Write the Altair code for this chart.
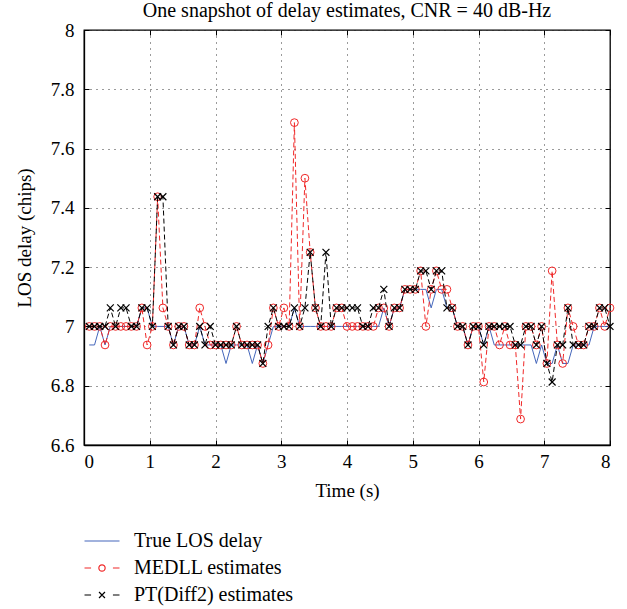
import altair as alt
import pandas as pd

# sampling instants (s)
time_s = [round(0.08 * k, 2) for k in range(1, 101)]

true_delay = [
    6.9375, 6.9375, 7.0, 6.9375, 7.0, 7.0, 7.0, 7.0, 7.0, 7.0,
    7.0625, 7.0625, 7.0, 7.0, 7.0, 7.0, 6.9375, 7.0, 7.0, 6.9375,
    6.9375, 7.0, 6.9375, 6.9375, 6.9375, 6.9375, 6.875, 6.9375, 6.9375, 6.9375,
    6.9375, 6.875, 6.9375, 6.875, 6.9375, 7.0, 7.0, 7.0, 7.0, 7.0625,
    7.0, 7.0, 7.0, 7.0, 7.0, 7.0, 7.0, 7.0, 7.0, 7.0,
    7.0, 7.0, 7.0, 7.0, 7.0, 7.0, 7.0625, 7.0, 7.0625, 7.0625,
    7.125, 7.125, 7.125, 7.125, 7.125, 7.0625, 7.125, 7.125, 7.0625, 7.0625,
    7.0, 7.0, 6.9375, 7.0, 7.0, 6.9375, 7.0, 6.9375, 6.9375, 6.9375,
    6.9375, 6.9375, 6.9375, 6.9375, 6.9375, 6.875, 6.9375, 6.875, 6.875, 6.9375,
    6.875, 6.875, 6.9375, 6.9375, 6.9375, 6.9375, 7.0, 7.0, 7.0, 7.0,
]

medll = [
    7.0, 7.0, 7.0, 6.9375, 7.0, 7.0, 7.0, 7.0, 7.0, 7.0,
    7.0625, 6.9375, 7.0, 7.4375, 7.0625, 7.0, 6.9375, 7.0, 7.0, 6.9375,
    6.9375, 7.0625, 7.0, 6.9375, 6.9375, 6.9375, 6.9375, 6.9375, 7.0, 6.9375,
    6.9375, 6.9375, 6.9375, 6.875, 6.9375, 7.0625, 7.0, 7.0625, 7.0, 7.6875,
    7.0, 7.5, 7.25, 7.0625, 7.0, 7.0, 7.0, 7.0625, 7.0625, 7.0,
    7.0, 7.0, 7.0, 7.0, 7.0, 7.0625, 7.0625, 7.0, 7.0625, 7.0625,
    7.125, 7.125, 7.125, 7.1875, 7.0, 7.125, 7.1875, 7.125, 7.125, 7.0625,
    7.0, 7.0, 6.9375, 7.0, 7.0, 6.8125, 7.0, 7.0, 6.9375, 7.0,
    6.9375, 6.9375, 6.6875, 7.0, 7.0, 6.9375, 7.0, 6.875, 7.1875, 6.9375,
    6.875, 7.0625, 7.0, 6.9375, 6.9375, 7.0, 7.0, 7.0625, 7.0, 7.0625,
]

pt_diff2 = [
    7.0, 7.0, 7.0, 7.0, 7.0625, 7.0, 7.0625, 7.0625, 7.0, 7.0,
    7.0625, 7.0625, 7.0, 7.4375, 7.4375, 7.0, 6.9375, 7.0, 7.0, 6.9375,
    6.9375, 7.0, 6.9375, 7.0, 6.9375, 6.9375, 6.9375, 6.9375, 7.0, 6.9375,
    6.9375, 6.9375, 6.9375, 6.875, 7.0, 7.0625, 7.0, 7.0, 7.0, 7.0625,
    7.0, 7.0625, 7.25, 7.0625, 7.0, 7.25, 7.0, 7.0625, 7.0625, 7.0625,
    7.0625, 7.0625, 7.0, 7.0, 7.0625, 7.0625, 7.125, 7.0, 7.0625, 7.0625,
    7.125, 7.125, 7.125, 7.1875, 7.1875, 7.125, 7.1875, 7.1875, 7.0625, 7.0625,
    7.0, 7.0, 6.9375, 7.0, 7.0, 6.9375, 7.0, 7.0, 7.0, 7.0,
    7.0, 6.9375, 6.9375, 7.0, 7.0, 6.9375, 7.0, 6.875, 6.8125, 6.9375,
    6.9375, 7.0625, 6.9375, 6.9375, 6.9375, 7.0, 7.0, 7.0625, 7.0625, 7.0,
]

series_names = ["True LOS delay", "MEDLL estimates", "PT(Diff2) estimates"]
x_ticks = [0, 1, 2, 3, 4, 5, 6, 7, 8]
y_ticks = [6.6, 6.8, 7.0, 7.2, 7.4, 7.6, 7.8, 8.0]

BLUE = "#4466bb"
RED = "#f02828"
BLACK = "#000000"
FONT = "Liberation Serif"

rows = []
for name, vals in zip(series_names, [true_delay, medll, pt_diff2]):
    for t, v in zip(time_s, vals):
        rows.append({"t": t, "delay": v, "series": name})
df = pd.DataFrame(rows)

W, H = 526, 415

x_scale = alt.Scale(domain=[0, 8], nice=False)
y_scale = alt.Scale(domain=[6.6, 8], nice=False, zero=False)

text_style = dict(labelFont=FONT, labelFontSize=19, labelColor=BLACK,
                  titleFont=FONT, titleFontSize=19, titleFontWeight="normal", titleColor=BLACK)
grid_style = dict(grid=True, gridDash=[1, 5], gridColor="#222222", gridOpacity=0.9, gridWidth=1)

x_main = alt.X("t:Q", scale=x_scale, axis=alt.Axis(
    title="Time (s)", values=x_ticks, format="~g", tickSize=0,
    labelPadding=7, titlePadding=10, domainColor=BLACK, domainWidth=1.3,
    **grid_style, **text_style))
y_main = alt.Y("delay:Q", scale=y_scale, axis=alt.Axis(
    title="LOS delay (chips)", values=y_ticks, format="~g", tickSize=0,
    labelPadding=10, titlePadding=16, domainColor=BLACK, domainWidth=1.3,
    **grid_style, **text_style))

tick_style = dict(labels=False, title=None, domain=False, grid=False, tickSize=5,
                  tickColor=BLACK, tickWidth=1)
# inward tick marks: axes pushed across the plot so their ticks point inside
x_in_bottom = alt.X("t:Q", scale=x_scale, axis=alt.Axis(orient="top", offset=-H, values=x_ticks, **tick_style))
y_in_left = alt.Y("delay:Q", scale=y_scale, axis=alt.Axis(orient="right", offset=-W, values=y_ticks, **tick_style))
x_in_top = alt.X("t:Q", scale=x_scale, axis=alt.Axis(orient="bottom", offset=-H, values=x_ticks, **tick_style))
y_in_right = alt.Y("delay:Q", scale=y_scale, axis=alt.Axis(orient="left", offset=-W, values=y_ticks, **tick_style))
x_plain = alt.X("t:Q", scale=x_scale, axis=None)
y_plain = alt.Y("delay:Q", scale=y_scale, axis=None)

base = alt.Chart(df)


def only(name):
    return alt.datum.series == name


blue = base.transform_filter(only(series_names[0])).mark_line(
    color=BLUE, strokeWidth=1).encode(x=x_main, y=y_main, order="t:Q")

red_line = base.transform_filter(only(series_names[1])).mark_line(
    color=RED, strokeWidth=1, strokeDash=[5, 3]).encode(x=x_in_bottom, y=y_in_left, order="t:Q")
red_pts = base.transform_filter(only(series_names[1])).mark_point(
    shape="circle", color=RED, filled=False, size=60, strokeWidth=1, opacity=1).encode(x=x_in_top, y=y_in_right)

black_line = base.transform_filter(only(series_names[2])).mark_line(
    color=BLACK, strokeWidth=1, strokeDash=[5, 3]).encode(x=x_plain, y=y_plain, order="t:Q")
black_pts = base.transform_filter(only(series_names[2])).mark_point(
    shape="M-1,-1L1,1M-1,1L1,-1", color=BLACK, filled=False, size=48, strokeWidth=1.2, opacity=1).encode(x=x_plain, y=y_plain)

# legend symbols: line segment with marker (path spans -2..2 horizontally)
legend_paths = [
    "M-2,0L2,0",
    "M-2,0L-1.25,0M1.25,0L2,0M0.36,0A0.36,0.36 0 1 1 -0.36,0A0.36,0.36 0 1 1 0.36,0",
    "M-2,0L-1.25,0M1.25,0L2,0M-0.34,-0.34L0.34,0.34M-0.34,0.34L0.34,-0.34",
]
leg = dict(title=None, orient="none", legendX=8, legendY=501, padding=0,
           symbolStrokeWidth=1.2, labelFont=FONT, labelFontSize=20, labelColor=BLACK,
           labelOffset=22, rowPadding=7, symbolSize=306)
legend_layer = base.transform_filter("false").mark_point(filled=False, strokeWidth=1, opacity=1).encode(
    x=x_plain, y=y_plain,
    color=alt.Color("series:N", scale=alt.Scale(domain=series_names, range=[BLUE, RED, BLACK]),
                    legend=alt.Legend(**leg)),
    shape=alt.Shape("series:N", scale=alt.Scale(domain=series_names, range=legend_paths),
                    legend=alt.Legend(**leg)),
)

chart = alt.layer(blue, red_line, red_pts, black_line, black_pts, legend_layer).resolve_axis(
    x="independent", y="independent"
).properties(
    width=W, height=H,
    background="white",
    title=alt.TitleParams("One snapshot of delay estimates, CNR = 40 dB-Hz",
                          font=FONT, fontSize=20, fontWeight="normal", color=BLACK,
                          anchor="middle", offset=0),
    autosize=alt.AutoSizeParams(type="none"),
    padding={"left": 84, "top": 30, "right": 17, "bottom": 164},
).configure_view(stroke=BLACK, strokeWidth=1.3)

chart.save("out.html", embed_options={"renderer": "svg", "actions": False})
